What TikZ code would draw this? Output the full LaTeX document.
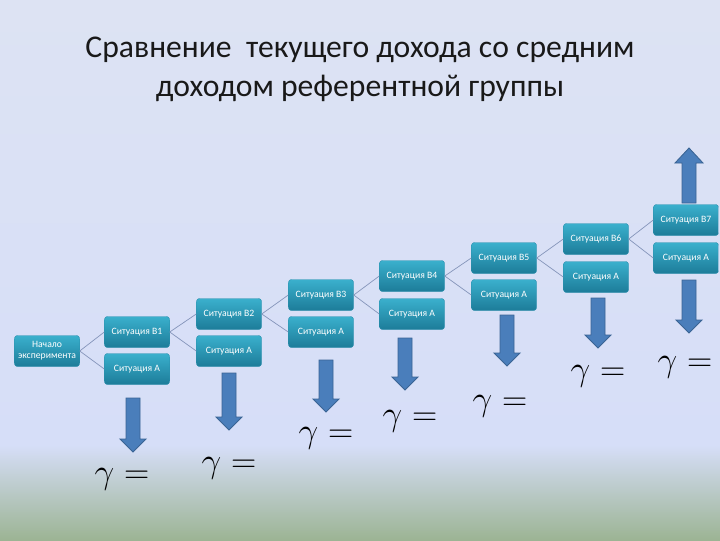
\documentclass[tikz,border=0pt]{standalone}
\usepackage{fontspec}
\setmainfont{Carlito}
\definecolor{bgtop}{HTML}{DDE3F3}
\definecolor{bgmid}{HTML}{D6DEF8}
\definecolor{bggreen}{HTML}{9CB494}
\definecolor{boxtop}{HTML}{3AB0CD}
\definecolor{boxbot}{HTML}{1D7C99}
\definecolor{boxedge}{HTML}{2A8FAD}
\definecolor{linkcol}{HTML}{8595BA}
\definecolor{arrowfill}{HTML}{4A7EBB}
\definecolor{arrowedge}{HTML}{3A6494}

\begin{document}
\begin{tikzpicture}[x=0.025cm, y=-0.025cm,
    sit/.style={draw=boxedge, line width=0.3pt, rounded corners=2pt,
        top color=boxtop, bottom color=boxbot, text=white,
        font=\fontsize{6.9}{7.9}\selectfont, align=center, inner sep=1pt,
        minimum width=1.625cm, minimum height=0.775cm},
    link/.style={draw=linkcol, line width=0.5pt},
    gam/.style={font=\fontsize{26}{30}\selectfont},
    blk/.style={fill=arrowfill, draw=arrowedge, line width=0.6pt}]
    \useasboundingbox (0,0) rectangle (720,540);
    % background
    \shade[top color=bgtop, bottom color=bgmid] (0,0) rectangle (720,446);
    \shade[top color=bgmid, bottom color=bggreen] (0,445) rectangle (720,540);

    \node[font=\fontsize{22.5}{27.5}\selectfont, align=center, text=black!90] (title) at (360,69)
        {Сравнение~ текущего дохода со средним\\доходом референтной группы};

    \node[sit] (start) at (47,351) {Начало\\эксперимента};
    \node[sit] (b1) at (137,332) {Ситуация В1};
    \node[sit] (a1) at (137,369) {Ситуация А};
    \node[sit] (b2) at (229,314) {Ситуация В2};
    \node[sit] (a2) at (229,351) {Ситуация А};
    \node[sit] (b3) at (321,295) {Ситуация В3};
    \node[sit] (a3) at (321,332) {Ситуация А};
    \node[sit] (b4) at (412,276) {Ситуация В4};
    \node[sit] (a4) at (412,314) {Ситуация А};
    \node[sit] (b5) at (504,258) {Ситуация В5};
    \node[sit] (a5) at (504,295) {Ситуация А};
    \node[sit] (b6) at (596,239) {Ситуация В6};
    \node[sit] (a6) at (596,277) {Ситуация А};
    \node[sit] (b7) at (686,220) {Ситуация В7};
    \node[sit] (a7) at (686,258) {Ситуация А};

    \foreach \p/\c in {start/1, b1/2, b2/3, b3/4, b4/5, b5/6, b6/7} {
        \draw[link] (\p.east) -- (b\c.west);
        \draw[link] (\p.east) -- (a\c.west);
    }

    % block arrows down
    \foreach \x/\t/\e in {133/398/452, 229/373/430, 326/360/412, 405/338/390,
                          507/315/366, 598/298/348, 689/280/333} {
        \draw[blk] ({\x-7},\t) -- ({\x+7},\t) -- ({\x+7},{\e-13}) -- ({\x+13},{\e-13})
            -- (\x,\e) -- ({\x-13},{\e-13}) -- ({\x-7},{\e-13}) -- cycle;
    }
    % block arrow up
    \draw[blk] (682,203) -- (696,203) -- (696,163) -- (703,163) -- (689,148)
        -- (675,163) -- (682,163) -- cycle;

    \node[gam] (g1) at (122,479) {$\gamma =$};
    \node[gam] (g2) at (229,468) {$\gamma =$};
    \node[gam] (g3) at (326,438) {$\gamma =$};
    \node[gam] (g4) at (410,421) {$\gamma =$};
    \node[gam] (g5) at (500,406) {$\gamma =$};
    \node[gam] (g6) at (598,376) {$\gamma =$};
    \node[gam] (g7) at (685,367) {$\gamma =$};
\end{tikzpicture}
\end{document}
